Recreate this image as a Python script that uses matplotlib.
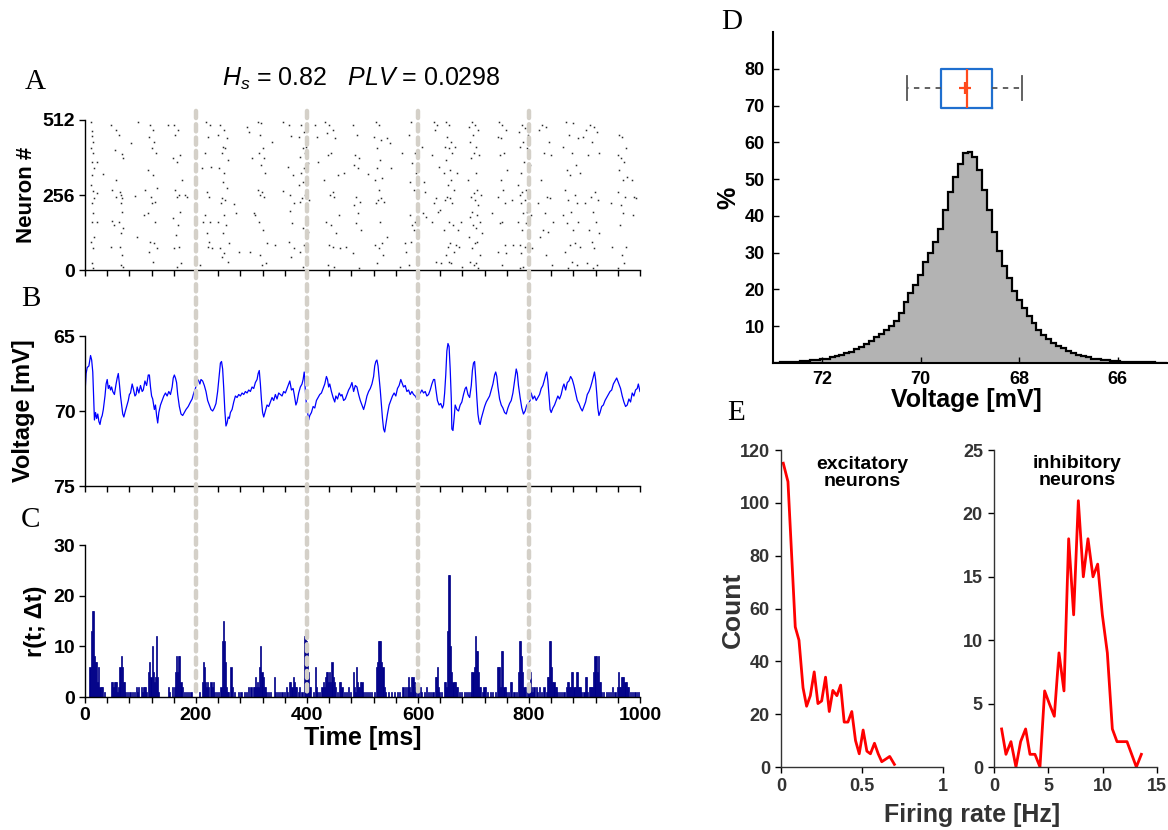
import numpy as np
import matplotlib
matplotlib.use("Agg")
import matplotlib.pyplot as plt
from matplotlib.patches import ConnectionPatch

# ---- A: raster (time ms, neuron index) ----
spikes = [
    (11, 506), (13, 475), (12, 459), (14, 438), (11, 415), (15, 398), (12, 370), (16, 347), (13, 324), (11, 290),
    (14, 270), (17, 245), (12, 228), (15, 194), (13, 165), (16, 114), (11, 97), (14, 74), (12, 23), (15, 6),
    (22, 370), (22, 262), (21, 165), (33, 327), (47, 495), (48, 273), (49, 167), (46, 80),
    (55, 478), (54, 410), (56, 307), (55, 250), (53, 154),
    (62, 461), (66, 395), (68, 381), (63, 267), (65, 256), (67, 245), (64, 228), (66, 199), (62, 165), (69, 142),
    (65, 125), (63, 80), (67, 51), (64, 17), (68, 11),
    (83, 432), (90, 253), (95, 504), (93, 114), (108, 273), (106, 188),
    (118, 495), (122, 478), (116, 455), (125, 438), (120, 415), (128, 398), (114, 341), (123, 324), (129, 279),
    (119, 250), (126, 233), (121, 228), (113, 194), (127, 165), (117, 97), (124, 91), (130, 74), (115, 63), (122, 28),
    (150, 495),
    (160, 495), (168, 478), (163, 461), (171, 393), (158, 381), (166, 370), (174, 307), (162, 273), (169, 256),
    (165, 250), (172, 199), (159, 176), (167, 154), (164, 119), (170, 80), (161, 74), (173, 23), (166, 11),
    (181, 256), (184, 250), (207, 17), (210, 347), (212, 165),
    (218, 506), (225, 495), (221, 455), (216, 398), (227, 353), (219, 267), (223, 250), (217, 188), (226, 165),
    (220, 125), (224, 97), (222, 80), (228, 74),
    (244, 495), (250, 478), (240, 461), (255, 450), (248, 421), (252, 415), (246, 398), (258, 375), (242, 347),
    (251, 330), (249, 302), (256, 279), (247, 245), (253, 239), (245, 228), (250, 188), (239, 165), (254, 154),
    (248, 125), (260, 91), (243, 74), (251, 57), (246, 46), (257, 28),
    (268, 224), (272, 194), (277, 63), (292, 489), (296, 472), (300, 381), (304, 194), (306, 188), (298, 63),
    (312, 506), (318, 501), (315, 461), (320, 415), (314, 398), (322, 381), (317, 358), (325, 330), (311, 273),
    (319, 267), (316, 256), (323, 250), (313, 165), (321, 136), (328, 91), (316, 51), (326, 23), (319, 17),
    (337, 438), (342, 85), (357, 504), (357, 270),
    (368, 495), (372, 459), (366, 353), (375, 324), (370, 256), (377, 228), (369, 201), (373, 159), (367, 97),
    (376, 74), (371, 46),
    (390, 495), (395, 472), (386, 455), (399, 421), (392, 415), (397, 398), (388, 387), (401, 364), (394, 347),
    (389, 330), (398, 313), (393, 302), (385, 290), (400, 273), (396, 256), (391, 245), (403, 239), (387, 233),
    (398, 210), (392, 142), (402, 131), (395, 85), (388, 63), (399, 34), (393, 11),
    (414, 495), (418, 455), (420, 370),
    (432, 506), (440, 495), (447, 478), (436, 467), (451, 450), (443, 398), (438, 393), (455, 324), (431, 307),
    (446, 267), (441, 256), (449, 250), (458, 188), (434, 165), (444, 154), (452, 125), (439, 85), (446, 80),
    (460, 74), (437, 17), (448, 11),
    (467, 330), (470, 80),
    (482, 495), (490, 461), (486, 393), (494, 381), (484, 358), (492, 347), (488, 250), (496, 233), (485, 222),
    (491, 194), (489, 159), (497, 136), (483, 57), (493, 6),
    (510, 327),
    (524, 506), (530, 495), (521, 455), (534, 444), (527, 415), (532, 375), (526, 347), (536, 313), (522, 307),
    (529, 273), (533, 245), (528, 239), (538, 233), (525, 228), (531, 165), (535, 91), (523, 85), (530, 74),
    (537, 51), (527, 23),
    (545, 450), (549, 432), (551, 347), (544, 114), (567, 11), (572, 398), (576, 91), (578, 63),
    (588, 506), (584, 461), (594, 398), (590, 364), (597, 330), (586, 302), (592, 273), (599, 256), (585, 188),
    (595, 165), (589, 154), (593, 136), (587, 97), (598, 23), (583, 17),
    (607, 421), (610, 302), (612, 267), (609, 194), (614, 182),
    (628, 506), (635, 495), (631, 478), (626, 393), (638, 353), (633, 245), (629, 228), (640, 205), (636, 199),
    (625, 165), (632, 28), (641, 23),
    (650, 506), (656, 495), (653, 455), (660, 438), (648, 421), (655, 415), (662, 398), (651, 375), (657, 341),
    (646, 330), (659, 307), (654, 290), (664, 273), (652, 250), (657, 245), (649, 239), (661, 228), (655, 165),
    (663, 154), (647, 136), (658, 91), (654, 80), (665, 63), (650, 51), (656, 28), (660, 23),
    (667, 421), (670, 330), (672, 136), (668, 85), (674, 80), (678, 165), (680, 11),
    (697, 506), (703, 495), (692, 489), (708, 478), (699, 461), (694, 438), (705, 421), (701, 398), (710, 393),
    (696, 381), (704, 330), (690, 307), (707, 273), (700, 262), (713, 256), (695, 250), (702, 239), (709, 222),
    (698, 199), (706, 188), (693, 182), (711, 165), (699, 154), (704, 142), (716, 125), (691, 114), (707, 97),
    (702, 91), (697, 74), (712, 51), (694, 28), (705, 23), (700, 17), (709, 6),
    (734, 194),
    (746, 506), (752, 495), (758, 478), (744, 455), (750, 450), (755, 398), (747, 393), (760, 341), (749, 307),
    (753, 273), (745, 250), (757, 228), (751, 165), (748, 159), (756, 85), (744, 63), (759, 57), (752, 17),
    (769, 239), (772, 85),
    (787, 495), (793, 484), (782, 472), (798, 461), (789, 438), (784, 421), (796, 415), (791, 370), (801, 358),
    (786, 330), (780, 290), (794, 273), (788, 267), (783, 256), (799, 250), (792, 239), (785, 228), (797, 199),
    (790, 194), (803, 188), (781, 165), (795, 159), (788, 136), (800, 114), (784, 85), (792, 80), (806, 74),
    (786, 57), (798, 23), (790, 11), (783, 6),
    (824, 495), (830, 489), (818, 478), (836, 438), (827, 398), (840, 393), (821, 307), (833, 250), (838, 245),
    (816, 228), (829, 194), (843, 165), (825, 136), (835, 131), (819, 114), (831, 51), (842, 17),
    (866, 506), (880, 501), (872, 461), (888, 450), (862, 421), (877, 398), (884, 358), (869, 341), (891, 330),
    (874, 324), (864, 273), (882, 256), (870, 239), (886, 228), (876, 199), (861, 188), (889, 165), (868, 159),
    (879, 136), (883, 91), (873, 85), (892, 80), (865, 63), (878, 28), (887, 17), (871, 6),
    (910, 495), (917, 489), (903, 478), (922, 472), (898, 455), (914, 438), (926, 398), (906, 393), (919, 267),
    (911, 250), (924, 239), (901, 228), (915, 199), (921, 165), (908, 136), (927, 125), (913, 97), (918, 74),
    (904, 23), (923, 17), (916, 6),
    (947, 228), (950, 80),
    (962, 461), (968, 455), (974, 415), (960, 393), (966, 381), (971, 370), (963, 341), (976, 319), (969, 307),
    (961, 267), (973, 250), (965, 222), (970, 194), (964, 154), (975, 80), (967, 51), (972, 23), (960, 6),
    (985, 307), (990, 250), (993, 245), (988, 188),
]

# ---- B: membrane voltage trace (ms, -mV) ----
trace = [
    (0, 68.8), (2, 67.5), (4, 67.1), (7, 67.0), (10, 66.3), (12, 66.6), (14, 67.4), (16, 69.5), (17, 70.6), (19, 70.1),
    (21, 70.5), (23, 70.2), (25, 70.7), (27, 70.9), (29, 70.5), (31, 70.3), (33, 69.9), (36, 69.0), (38, 68.2),
    (40, 67.9), (42, 68.5), (44, 68.3), (46, 68.6), (48, 68.4), (50, 68.7), (53, 68.9), (56, 68.2), (58, 67.8),
    (60, 67.5), (62, 68.2), (64, 69.0), (66, 69.6), (68, 70.2), (70, 70.4), (72, 70.1), (75, 69.7), (78, 69.3),
    (80, 68.9), (82, 68.8), (85, 68.2), (87, 68.5), (90, 69.0), (92, 68.9), (94, 68.4), (97, 68.8), (100, 68.3),
    (103, 68.7), (105, 68.6), (108, 68.0), (111, 68.3), (114, 67.6), (116, 67.6), (118, 68.4), (120, 69.0),
    (122, 69.2), (125, 69.9), (127, 69.6), (129, 70.3), (131, 70.8), (133, 70.1), (136, 69.6), (139, 69.3),
    (142, 69.0), (145, 68.8), (148, 69.0), (151, 68.7), (154, 68.9), (157, 68.4), (159, 67.8), (161, 67.6),
    (163, 67.8), (165, 68.1), (167, 68.9), (170, 69.7), (173, 70.2), (176, 70.3), (179, 70.1), (182, 69.9),
    (186, 69.7), (190, 69.4), (193, 69.2), (196, 68.8), (199, 68.5), (201, 68.2), (203, 67.9), (205, 68.0),
    (207, 68.2), (209, 67.9), (212, 68.0), (215, 68.3), (218, 68.7), (221, 69.3), (224, 69.6), (227, 69.9),
    (230, 70.0), (233, 69.8), (236, 69.5), (239, 68.7), (242, 67.6), (244, 66.8), (246, 66.7), (248, 67.2),
    (250, 68.5), (252, 70.0), (254, 71.0), (256, 70.8), (258, 70.4), (260, 70.5), (262, 70.1), (265, 69.9),
    (268, 69.4), (271, 69.0), (274, 69.1), (277, 68.9), (280, 69.0), (283, 68.8), (286, 68.9), (289, 68.7),
    (292, 68.8), (295, 68.6), (298, 68.7), (301, 68.4), (304, 68.5), (307, 68.1), (310, 67.9), (312, 67.5),
    (314, 67.3), (316, 68.2), (318, 69.3), (320, 70.1), (322, 70.4), (325, 70.0), (328, 69.6), (331, 69.7),
    (334, 69.4), (337, 69.1), (340, 69.3), (343, 68.9), (346, 69.2), (349, 68.8), (352, 68.9), (355, 69.0),
    (358, 68.7), (361, 68.8), (364, 68.5), (367, 68.2), (369, 68.0), (372, 68.6), (375, 68.5), (377, 68.9),
    (380, 69.6), (382, 69.4), (385, 68.8), (388, 68.4), (391, 68.2), (393, 67.9), (395, 67.4), (397, 68.6),
    (399, 69.6), (401, 70.1), (403, 70.6), (405, 70.3), (408, 70.1), (411, 69.7), (414, 69.8), (417, 69.3),
    (420, 69.1), (423, 68.9), (426, 68.8), (429, 68.5), (432, 68.2), (435, 67.7), (437, 67.9), (439, 68.4),
    (441, 68.2), (444, 68.7), (447, 69.1), (450, 69.4), (452, 69.0), (455, 69.2), (458, 68.8), (461, 69.0),
    (463, 68.9), (466, 69.3), (469, 69.2), (472, 68.9), (475, 68.6), (478, 68.4), (481, 68.1), (484, 68.7),
    (487, 68.3), (490, 68.4), (493, 68.9), (496, 69.3), (499, 69.6), (502, 69.9), (505, 69.5), (508, 69.0),
    (511, 68.7), (514, 68.5), (517, 68.2), (520, 67.7), (522, 67.0), (524, 66.7), (526, 66.6), (528, 67.0),
    (530, 67.8), (532, 68.6), (534, 69.6), (536, 70.5), (538, 71.2), (540, 71.4), (542, 70.9), (545, 70.2),
    (548, 69.6), (551, 69.3), (554, 69.0), (557, 68.8), (560, 69.0), (563, 68.5), (566, 68.3), (569, 67.9),
    (571, 68.1), (574, 68.4), (577, 68.3), (580, 68.7), (583, 68.6), (586, 68.9), (589, 68.7), (592, 68.9),
    (595, 69.0), (598, 69.2), (601, 68.9), (604, 68.8), (607, 68.6), (610, 68.8), (613, 68.7), (616, 69.0),
    (619, 68.9), (622, 68.6), (625, 68.2), (628, 67.9), (630, 67.9), (632, 68.5), (635, 69.3), (638, 69.6),
    (641, 69.5), (644, 69.8), (646, 69.6), (648, 68.8), (650, 67.6), (652, 66.0), (654, 65.5), (656, 65.7),
    (658, 67.2), (660, 69.2), (661, 71.2), (663, 71.3), (665, 70.5), (667, 69.6), (670, 69.9), (673, 70.0),
    (676, 69.6), (679, 69.4), (682, 68.9), (685, 68.5), (687, 68.4), (690, 68.9), (693, 69.1), (696, 68.3),
    (698, 67.3), (700, 66.8), (702, 66.7), (704, 67.8), (706, 69.1), (708, 70.2), (710, 70.7), (712, 70.9),
    (714, 70.5), (717, 70.1), (720, 69.7), (723, 69.4), (726, 69.2), (729, 69.0), (732, 68.6), (735, 68.2),
    (738, 67.6), (740, 67.4), (742, 67.7), (744, 68.4), (747, 69.2), (750, 69.6), (753, 69.8), (756, 70.1),
    (759, 70.2), (762, 69.8), (765, 69.5), (768, 69.3), (771, 68.8), (774, 68.0), (777, 67.2), (779, 67.5),
    (781, 68.3), (784, 69.1), (787, 69.8), (790, 70.2), (793, 70.0), (796, 69.6), (799, 69.5), (802, 69.3),
    (804, 68.8), (807, 69.2), (810, 69.0), (813, 69.3), (816, 69.1), (819, 68.9), (822, 68.5), (825, 68.3),
    (828, 67.9), (830, 67.6), (832, 67.4), (834, 68.0), (836, 69.0), (838, 69.9), (840, 70.1), (843, 69.8),
    (846, 69.6), (849, 69.3), (852, 69.0), (855, 69.2), (858, 68.9), (861, 68.4), (863, 68.2), (866, 68.6),
    (869, 68.1), (872, 68.0), (875, 67.7), (878, 67.9), (881, 68.3), (884, 68.8), (887, 69.3), (890, 69.5),
    (893, 69.8), (896, 70.0), (899, 69.7), (902, 69.4), (905, 68.9), (908, 68.7), (911, 68.4), (914, 68.0),
    (916, 67.7), (918, 67.4), (920, 67.9), (922, 68.8), (924, 69.8), (926, 70.3), (928, 70.1), (931, 69.7),
    (934, 69.6), (937, 69.3), (940, 69.1), (943, 68.9), (946, 68.7), (949, 68.6), (952, 68.2), (955, 68.0),
    (958, 67.8), (960, 68.0), (962, 68.2), (965, 68.5), (968, 69.0), (971, 69.4), (974, 69.7), (977, 69.6),
    (980, 69.2), (983, 69.4), (986, 68.8), (989, 69.0), (992, 68.6), (995, 68.5), (997, 68.2), (1000, 68.7),
]

# ---- C: population count per 2 ms bin (bin start ms, count); empty bins omitted ----
rate = [
    (8, 6), (10, 13), (12, 17), (14, 17), (16, 8), (18, 7), (20, 7), (22, 3), (24, 6), (26, 2), (28, 2), (30, 2), (34, 1),
    (46, 3), (48, 3), (50, 2), (52, 3), (54, 3), (56, 3), (58, 1), (60, 2), (62, 6), (64, 8), (66, 6), (68, 3), (70, 3),
    (72, 1), (76, 1), (80, 1), (84, 1), (88, 1), (92, 2), (94, 1), (96, 2), (100, 2), (102, 1), (104, 2), (106, 2),
    (108, 2), (110, 1), (114, 5), (116, 7), (118, 4), (120, 10), (122, 5), (124, 3), (126, 4), (128, 12), (130, 4),
    (132, 1), (150, 2), (152, 1), (156, 2), (160, 2), (162, 5), (164, 8), (166, 5), (168, 8), (170, 8), (172, 3),
    (174, 2), (178, 1), (182, 1), (186, 1), (190, 1), (206, 1), (210, 3), (212, 7), (214, 6), (216, 3), (218, 2),
    (220, 3), (222, 2), (226, 3), (228, 2), (230, 3), (232, 1), (236, 1), (240, 1), (244, 2), (246, 11), (248, 15),
    (250, 11), (252, 7), (254, 2), (256, 1), (258, 1), (262, 6), (264, 2), (268, 1), (276, 1), (280, 1), (286, 1),
    (290, 1), (294, 2), (298, 2), (302, 2), (304, 2), (306, 4), (308, 2), (310, 3), (312, 2), (314, 6), (316, 10),
    (318, 5), (320, 4), (322, 2), (324, 2), (326, 1), (330, 1), (334, 1), (340, 4), (342, 1), (346, 1), (350, 1),
    (354, 1), (358, 1), (362, 2), (364, 1), (368, 3), (370, 3), (372, 2), (374, 4), (376, 3), (378, 2), (380, 2),
    (384, 1), (386, 2), (390, 1), (394, 12), (396, 12), (398, 11), (400, 10), (402, 5), (404, 2), (406, 2), (410, 1),
    (414, 6), (416, 2), (418, 1), (422, 1), (426, 2), (428, 3), (430, 2), (432, 4), (434, 5), (436, 5), (438, 3),
    (440, 5), (442, 3), (444, 7), (446, 4), (448, 3), (450, 2), (454, 1), (458, 3), (460, 3), (462, 2), (466, 1),
    (470, 1), (474, 2), (478, 1), (482, 5), (484, 2), (486, 1), (488, 6), (490, 3), (492, 2), (494, 2), (496, 3),
    (498, 3), (500, 1), (504, 1), (508, 1), (512, 1), (516, 1), (520, 1), (524, 6), (526, 7), (528, 11), (530, 11),
    (532, 11), (534, 7), (536, 6), (538, 2), (540, 1), (546, 1), (552, 1), (556, 1), (562, 1), (566, 1), (572, 2),
    (576, 2), (580, 2), (582, 4), (584, 2), (586, 1), (588, 4), (590, 4), (592, 3), (594, 2), (598, 2), (600, 1),
    (604, 2), (606, 1), (610, 1), (614, 2), (618, 1), (622, 1), (626, 1), (630, 4), (632, 4), (634, 6), (636, 2),
    (638, 1), (642, 1), (646, 3), (648, 3), (650, 2), (652, 13), (654, 24), (656, 24), (658, 10), (660, 5), (662, 3),
    (664, 3), (666, 3), (668, 2), (670, 2), (674, 1), (678, 1), (682, 1), (686, 1), (690, 1), (694, 1), (696, 5),
    (698, 5), (700, 6), (702, 12), (704, 9), (706, 9), (708, 5), (710, 2), (712, 2), (716, 1), (718, 2), (720, 2),
    (724, 1), (730, 1), (734, 1), (738, 1), (742, 6), (744, 6), (746, 6), (748, 2), (750, 9), (752, 9), (754, 2),
    (756, 2), (758, 1), (762, 1), (766, 3), (768, 3), (772, 1), (776, 1), (780, 5), (782, 11), (784, 11), (786, 8),
    (788, 5), (790, 2), (792, 2), (796, 2), (798, 1), (800, 2), (802, 5), (804, 2), (806, 1), (808, 2), (812, 2),
    (814, 1), (818, 2), (822, 1), (826, 2), (830, 1), (832, 4), (834, 4), (836, 11), (838, 11), (840, 6), (842, 3),
    (844, 3), (846, 2), (848, 2), (850, 1), (854, 1), (858, 1), (862, 1), (866, 2), (868, 3), (870, 3), (872, 2),
    (874, 2), (876, 5), (878, 5), (880, 2), (882, 2), (884, 5), (886, 5), (888, 2), (890, 2), (892, 2), (894, 1),
    (898, 1), (900, 4), (902, 4), (904, 1), (908, 2), (910, 2), (912, 2), (914, 2), (916, 5), (918, 8), (920, 8),
    (922, 5), (924, 8), (926, 3), (928, 3), (930, 1), (934, 1), (938, 1), (942, 1), (946, 1), (950, 2), (954, 1),
    (958, 2), (960, 5), (962, 2), (964, 2), (966, 4), (968, 4), (970, 4), (972, 3), (974, 3), (976, 2), (978, 2),
    (982, 1), (986, 1), (990, 1), (994, 1), (998, 1),
]
phase_marks = [200, 400, 600, 800]

# ---- D: voltage histogram, bin centres from 73.0 down to 65.0 mV (0.1 mV) ----
hist_v0, hist_dv = 73.0, 0.1
hist_pct = [
    0.1, 0.1, 0.2, 0.2, 0.3, 0.4, 0.5, 0.6, 0.7, 0.8,
    1.0, 1.2, 1.5, 1.8, 2.2, 2.6, 3.1, 3.7, 4.4, 5.2,
    6.0, 7.0, 8.0, 9.0, 10.0, 11.5, 13.5, 16.5, 19.0, 21.3,
    24.0, 27.5, 30.0, 33.0, 36.5, 41.5, 46.5, 50.5, 54.2, 57.0,
    57.5, 56.0, 52.5, 47.0, 41.5, 35.5, 30.5, 26.5, 23.0, 19.5,
    17.0, 15.0, 12.8, 10.8, 9.0, 7.6, 6.5, 5.5, 4.7, 4.0,
    3.3, 2.8, 2.2, 1.8, 1.5, 1.2, 1.0, 0.8, 0.7, 0.6,
    0.5, 0.4, 0.35, 0.3, 0.25, 0.2, 0.2, 0.15, 0.1, 0.1, 0.1,
]
box_stats = dict(whislo=67.95, q1=68.56, med=69.07, q3=69.59, whishi=70.27, mean=69.1)

# ---- E: firing-rate distributions ----
exc_rate = [0.014, 0.043, 0.088, 0.111, 0.136, 0.158, 0.181, 0.205, 0.228, 0.251, 0.275, 0.298, 0.320, 0.345,
            0.368, 0.390, 0.413, 0.437, 0.460, 0.483, 0.507, 0.530, 0.552, 0.577, 0.600, 0.622, 0.647, 0.671, 0.700]
exc_count = [115, 108, 53, 48, 30, 23, 27, 36, 24, 25, 34, 21, 29, 27, 31, 17, 17, 21, 10, 5, 14, 6, 5, 9, 5, 2, 3, 4, 1]
inh_rate = [0.7, 1.1, 1.56, 2.02, 2.45, 2.91, 3.31, 3.77, 4.23, 4.66, 5.09, 5.55, 5.98, 6.44, 6.87, 7.33, 7.76,
            8.22, 8.65, 9.11, 9.54, 9.97, 10.43, 10.89, 11.32, 11.78, 12.24, 12.67, 13.1, 13.56]
inh_count = [3, 1, 2, 0, 2, 3, 1, 1, 0, 6, 5, 4, 9, 6, 18, 12, 21, 15, 18, 15, 16, 12, 9, 3, 2, 2, 2, 1, 0, 1]

W, H = 1168, 830
plt.rcParams['font.family'] = ['Liberation Sans', 'DejaVu Sans']
plt.rcParams['font.weight'] = 'bold'
plt.rcParams['axes.labelweight'] = 'bold'
plt.rcParams['mathtext.fontset'] = 'custom'
plt.rcParams['mathtext.it'] = 'Liberation Sans:style=italic:weight=normal'
plt.rcParams['mathtext.rm'] = 'Liberation Sans:weight=normal'


def rect(x0, y0, x1, y1):
    return [x0 / W, 1 - y1 / H, (x1 - x0) / W, (y1 - y0) / H]


def letter(x, y, s):
    fig.text(x / W, 1 - y / H, s, family=['Liberation Serif', 'DejaVu Serif'],
             weight='normal', fontsize=21, ha='center', va='center')


fig = plt.figure(figsize=(W / 100, H / 100), dpi=100)
axA = fig.add_axes(rect(85, 120, 640, 270))
axB = fig.add_axes(rect(85, 336, 640, 486))
axC = fig.add_axes(rect(85, 545, 640, 697))
axD = fig.add_axes(rect(773, 32, 1167, 363))
axE1 = fig.add_axes(rect(781, 450, 943, 767))
axE2 = fig.add_axes(rect(994, 450, 1157, 767))

for ax in (axA, axB, axC, axD, axE1, axE2):
    ax.spines[['top', 'right']].set_visible(False)

# A
st, sn = zip(*spikes)
axA.plot(st, sn, ls='none', marker='s', ms=1.1, mew=0, color='#2a2a2a')
axA.set_ylim(0, 512)
axA.set_yticks([0, 256, 512])
axA.set_ylabel('Neuron #', fontsize=16, va='center')
axA.yaxis.set_label_coords(-0.105, 0.5)

# B
tt, vv = zip(*trace)
axB.plot(tt, vv, color='#0000ff', lw=0.9)
axB.set_ylim(75, 65)
axB.set_yticks([65, 70, 75])
axB.set_ylabel('Voltage [mV]', fontsize=17, va='center')
axB.yaxis.set_label_coords(-0.11, 0.5)

# C
rt, rv = zip(*rate)
axC.bar(rt, rv, width=2, align='edge', color='#000088', edgecolor='#000088', lw=0.5)
axC.set_ylim(0, 30)
axC.set_yticks([0, 10, 20, 30])
axC.set_ylabel('r(t; Δt)', fontsize=17, va='center')
axC.yaxis.set_label_coords(-0.09, 0.5)
axC.set_xlabel('Time [ms]', fontsize=18, va='center')
axC.xaxis.set_label_coords(0.5, -0.27)

for ax in (axA, axB, axC):
    ax.set_xlim(0, 1000)
    ax.set_xticks(np.arange(0, 1001, 200))
    ax.set_xticks(np.arange(0, 1001, 40), minor=True)
    ax.tick_params(which='both', direction='out', length=4, width=1, labelsize=14, pad=3)
    for sp in ax.spines.values():
        sp.set_linewidth(1)
axA.set_xticklabels([])
axB.set_xticklabels([])

for t in phase_marks:
    cp = ConnectionPatch(xyA=(t, 543), coordsA=axA.transData, xyB=(t, 0), coordsB=axC.transData,
                         color='#d4d0c8', lw=3.2, linestyle=(0, (1.6, 1.4)))
    fig.add_artist(cp)

fig.text(361 / W, 1 - 86 / H, r'$H_s$ = 0.82   $PLV$ = 0.0298', fontsize=18,
         weight='normal', ha='center', va='baseline')

# D
pct = np.array(hist_pct)
centres = hist_v0 - hist_dv * np.arange(len(pct))
edges = np.append(centres[::-1] - hist_dv / 2, centres[0] + hist_dv / 2)
axD.stairs(pct[::-1], edges, fill=True, color='#b3b3b3')
axD.stairs(pct[::-1], edges, color='black', lw=1.6)
axD.bxp([dict(box_stats, fliers=[])], positions=[74.7], widths=10.6, orientation='horizontal',
        showmeans=True, manage_ticks=False, capwidths=6.5,
        boxprops=dict(color='#1f6fcf', lw=1.6),
        medianprops=dict(color='#ff4a1c', lw=1.6),
        whiskerprops=dict(color='#555555', lw=1.3, ls=(0, (3, 3))),
        capprops=dict(color='#555555', lw=1.3),
        meanprops=dict(marker='+', markeredgecolor='#ff4a1c', markersize=9, markeredgewidth=1.6))
axD.set_xlim(73, 65)
axD.set_ylim(0, 90)
axD.set_xticks([72, 70, 68, 66])
axD.set_yticks(range(10, 81, 10))
axD.tick_params(direction='in', length=4, width=1, labelsize=13, pad=6)
for sp in axD.spines.values():
    sp.set_linewidth(1.5)
axD.set_ylabel('%', fontsize=18, va='center')
axD.yaxis.set_label_coords(-0.112, 0.5)
axD.set_xlabel('Voltage [mV]', fontsize=18, va='center')
axD.xaxis.set_label_coords(0.49, -0.112)

# E
axE1.plot(exc_rate, exc_count, color='#ff0000', lw=2)
axE1.set_xlim(0, 1)
axE1.set_ylim(0, 120)
axE1.set_xticks([0, 0.5, 1])
axE1.set_xticklabels(['0', '0.5', '1'])
axE1.set_yticks(range(0, 121, 20))
axE1.set_ylabel('Count', fontsize=19, color='#333333', va='center')
axE1.yaxis.set_label_coords(-0.30, 0.495)

axE2.plot(inh_rate, inh_count, color='#ff0000', lw=2)
axE2.set_xlim(0, 15)
axE2.set_ylim(0, 25)
axE2.set_xticks([0, 5, 10, 15])
axE2.set_yticks(range(0, 26, 5))

for ax in (axE1, axE2):
    ax.tick_params(direction='out', length=4, width=1, labelsize=13, labelcolor='#333333', pad=4)
    for sp in ax.spines.values():
        sp.set_linewidth(1)
        sp.set_color('#333333')

fig.text(862 / W, 1 - 473 / H, 'excitatory\nneurons', fontsize=14, ha='center', va='center',
         linespacing=1.05)
fig.text(1077 / W, 1 - 472 / H, 'inhibitory\nneurons', fontsize=14, ha='center', va='center',
         linespacing=1.05)
fig.text(972 / W, 1 - 815 / H, 'Firing rate [Hz]', fontsize=18, color='#333333', ha='center', va='center')

letter(35, 82, 'A')
letter(31, 299, 'B')
letter(30, 520, 'C')
letter(732, 22, 'D')
letter(736, 413, 'E')

fig.savefig('out.png', dpi=100)
